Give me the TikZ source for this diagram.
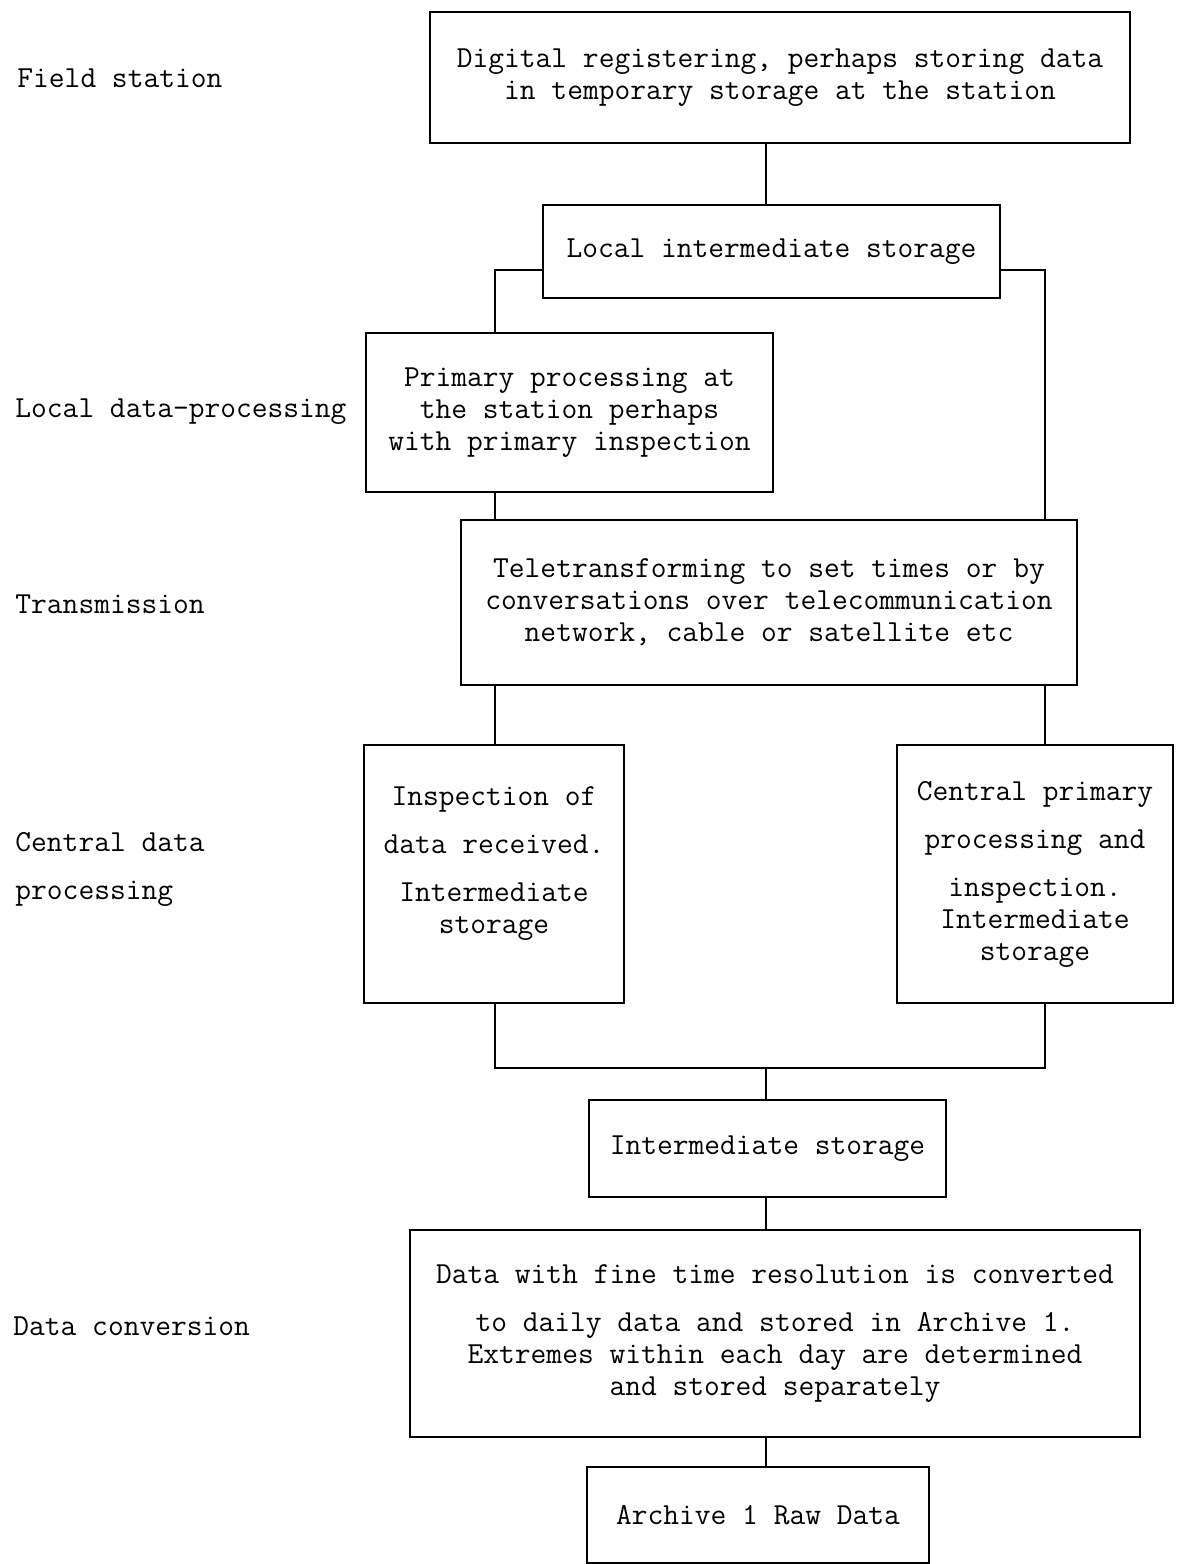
\documentclass[tikz,border=0pt]{standalone}
\usetikzlibrary{positioning,calc}

\begin{document}
\begin{tikzpicture}[x=0.5pt, y=-0.5pt, font=\ttfamily\fontsize{15.3}{16}\selectfont, line width=0.8pt]
\tikzset{box/.style={draw, align=center, inner sep=0pt}, lbl/.style={anchor=west, align=left}}
\useasboundingbox (0,0) rectangle (1177,1564);
\node[box, minimum width=350pt, minimum height=65.5pt] (field) at (780,77.5) {Digital registering, perhaps storing data\\in temporary storage at the station};
\node[box, minimum width=228.5pt, minimum height=46.5pt] (local) at (771.5,251.5) {Local intermediate storage};
\node[box, minimum width=203.5pt, minimum height=79.5pt] (prim) at (569.5,412.5) {Primary processing at\\the station perhaps\\with primary inspection};
\node[box, minimum width=308pt, minimum height=82.5pt] (trans) at (769,602.5) {Teletransforming to set times or by\\conversations over telecommunication\\network, cable or satellite etc};
\node[box, minimum width=130pt, minimum height=129pt] (insp) at (494,874) {Inspection of\\[8pt]data received.\\[8pt]Intermediate\\storage\\[-2pt]\mbox{}};
\node[box, minimum width=138pt, minimum height=129pt] (cent) at (1035,874) {Central primary\\[8pt]processing and\\[8pt]inspection.\\Intermediate\\storage};
\node[box, minimum width=178.5pt, minimum height=48.5pt] (inter) at (767.5,1148.5) {Intermediate storage};
\node[box, minimum width=365pt, minimum height=103.5pt] (conv) at (775,1333.5) {Data with fine time resolution is converted\\[8pt]to daily data and stored in Archive 1.\\Extremes within each day are determined\\and stored separately};
\node[box, minimum width=171pt, minimum height=48pt] (arch) at (758,1515) {Archive 1 Raw Data};
% level names on the left
\node[lbl] (lfield) at (10,78) {Field station};
\node[lbl] (lproc) at (8,412) {Local data-processing};
\node[lbl] (ltrans) at (8,604) {Transmission};
\node[lbl] (lcent) at (8,869) {Central data\\[8pt]processing};
\node[lbl] (lconv) at (6,1326) {Data conversion};
% connectors
\coordinate (jn) at (766,1068);
\draw (field.south -| jn) -- (local.north -| jn);
\draw (local.west |- 0,270) -| (prim.north -| 495,0);
\draw (local.east |- 0,270) -| (trans.north -| 1045,0);
\draw (prim.south -| 495,0) -- (trans.north -| 495,0);
\draw (trans.south -| 495,0) -- (insp.north -| 495,0);
\draw (trans.south -| 1045,0) -- (cent.north -| 1045,0);
\draw (insp.south -| 495,0) |- (jn) -| (cent.south -| 1045,0);
\foreach \a/\b in {jn/inter.north, inter.south/conv.north, conv.south/arch.north} \draw (\a -| jn) -- (\b -| jn);
\end{tikzpicture}
\end{document}
